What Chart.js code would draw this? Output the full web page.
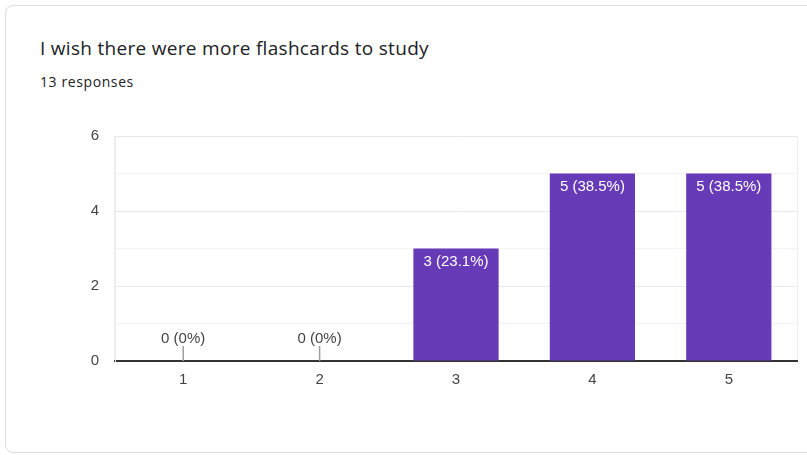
<!DOCTYPE html>
<html>
<head>
<meta charset="utf-8">
<script src="https://cdn.jsdelivr.net/npm/chart.js@4/dist/chart.umd.min.js"></script>
<style>
  html, body { margin: 0; padding: 0; background: #fff; }
  body { width: 807px; height: 455px; position: relative; overflow: hidden; }
  .card {
    position: absolute; left: 5px; top: 5px; width: 840px; height: 446px;
    border: 1px solid #dadce0; border-radius: 8px; box-sizing: content-box;
  }
  .title {
    position: absolute; left: 40px; top: 35.6px; font-family: "Open Sans", sans-serif;
    font-size: 19px; line-height: 24px; letter-spacing: 0.3px; color: #202124; white-space: nowrap;
  }
  .sub {
    position: absolute; left: 40px; top: 71.6px; font-family: "Open Sans", sans-serif;
    font-size: 14px; line-height: 20px; letter-spacing: 0.6px; color: #202124; white-space: nowrap;
  }
  .wrap { position: absolute; left: 0; top: 0; width: 807px; height: 455px; }
</style>
</head>
<body>
<div class="card"></div>
<div class="title">I wish there were more flashcards to study</div>
<div class="sub">13 responses</div>
<div class="wrap"><canvas id="myChart"></canvas></div>
<script>
var ratings = ['1', '2', '3', '4', '5'];
var counts = [0, 0, 3, 5, 5];
var yTicks = [0, 2, 4, 6];

var total = counts.reduce(function(a, b){ return a + b; }, 0);
var chartFont = '"Liberation Sans", Arial, sans-serif';

function pct(v){
  var s = (v / total * 100).toFixed(1);
  if (s.slice(-2) === '.0') s = s.slice(0, -2);
  return s + '%';
}

// value labels: white inside bars, with a little stem for empty ones
var barLabels = {
  id: 'barLabels',
  afterDatasetsDraw: function(chart){
    var ctx = chart.ctx;
    var meta = chart.getDatasetMeta(0);
    ctx.save();
    ctx.font = '15px ' + chartFont;
    ctx.textAlign = 'center';
    ctx.textBaseline = 'alphabetic';
    meta.data.forEach(function(bar, i){
      var v = counts[i];
      var txt = v + ' (' + pct(v) + ')';
      if (v > 0) {
        ctx.fillStyle = '#ffffff';
        ctx.fillText(txt, bar.x, bar.y + 17.5);
      } else {
        ctx.strokeStyle = '#9e9e9e';
        ctx.lineWidth = 1.5;
        ctx.beginPath();
        ctx.moveTo(bar.x, bar.y);
        ctx.lineTo(bar.x, bar.y - 15);
        ctx.stroke();
        ctx.fillStyle = '#444444';
        ctx.fillText(txt, bar.x, bar.y - 18);
      }
    });
    ctx.restore();
  }
};

var ctx = document.getElementById('myChart');
var chart = new Chart(ctx, {
  type: 'bar',
  data: {
    labels: ratings,
    datasets: [{
      data: counts,
      backgroundColor: '#673ab7',
      borderWidth: 0,
      barPercentage: 0.625,
      categoryPercentage: 1
    }]
  },
  options: {
    responsive: true,
    maintainAspectRatio: false,
    animation: false,
    layout: { padding: { top: 136, right: 10, left: 0, bottom: 0 } },
    plugins: {
      legend: { display: false },
      tooltip: { enabled: false }
    },
    scales: {
      x: {
        grid: {
          drawTicks: false,
          color: function(c){ return (c.type === 'scale' || c.index === 0) ? '#eeeeee' : 'rgba(0,0,0,0)'; }
        },
        border: { display: true, color: '#333333', width: 2 },
        ticks: {
          padding: 10,
          color: '#444444',
          font: { family: chartFont, size: 15 }
        },
        afterFit: function(s){ s.height = 94; }
      },
      y: {
        min: 0,
        max: 6,
        grid: {
          drawTicks: false,
          color: function(c){
            var v = c.tick ? c.tick.value : 0;
            if (v === 0) return 'rgba(0,0,0,0)';
            return yTicks.indexOf(v) >= 0 ? '#e8e8e8' : '#f3f3f3';
          }
        },
        border: { display: true, color: '#eeeeee', width: 1 },
        ticks: {
          stepSize: 1,
          padding: 16,
          color: '#444444',
          font: { family: chartFont, size: 15 },
          callback: function(v){ return yTicks.indexOf(v) >= 0 ? v : ''; }
        },
        afterFit: function(s){ s.width = 115; }
      }
    }
  },
  plugins: [barLabels]
});
</script>
</body>
</html>
